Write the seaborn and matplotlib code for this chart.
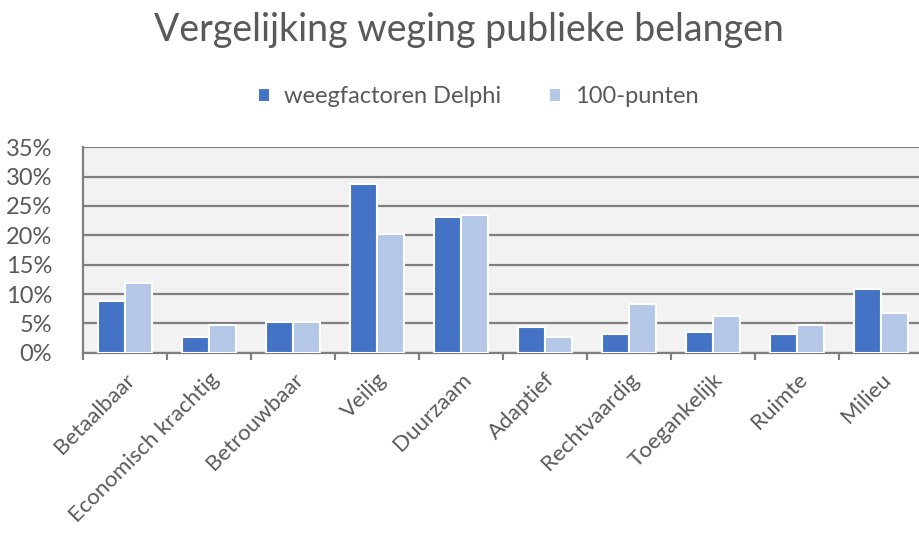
import numpy as np
import pandas as pd
import matplotlib
matplotlib.use("Agg")
import matplotlib.pyplot as plt
import seaborn as sns
from matplotlib.ticker import PercentFormatter

categories = ["Betaalbaar", "Economisch krachtig", "Betrouwbaar", "Veilig", "Duurzaam",
              "Adaptief", "Rechtvaardig", "Toegankelijk", "Ruimte", "Milieu"]
delphi = [8.9, 2.7, 5.3, 28.8, 23.1, 4.4, 3.2, 3.6, 3.2, 10.8]
punten = [11.9, 4.8, 5.3, 20.2, 23.5, 2.7, 8.3, 6.2, 4.8, 6.8]
series = ["weegfactoren Delphi", "100-punten"]
colors = ["#4472C4", "#B4C7E7"]

df = pd.DataFrame({
    "categorie": categories * 2,
    "reeks": [series[0]] * len(categories) + [series[1]] * len(categories),
    "waarde": delphi + punten,
})

sns.set_style("white")
plt.rcParams["font.family"] = ["Lato", "DejaVu Sans"]
textcol = "#595959"

fig = plt.figure(figsize=(9.2, 5.37), dpi=100)
ax = fig.add_axes([0.09, 0.343, 0.913, 0.383])
ax.set_facecolor("#F2F2F2")

sns.barplot(data=df, x="categorie", y="waarde", hue="reeks", palette=colors,
            saturation=1, width=0.64, edgecolor="white", linewidth=1.5, ax=ax, zorder=3)

ax.set_ylim(0, 35)
ax.set_xlim(-0.5, 9.5)
ax.set_yticks(range(0, 36, 5))
ax.yaxis.set_major_formatter(PercentFormatter(decimals=0))
ax.yaxis.grid(True, color="#7F7F7F", linewidth=1.6, zorder=0)
ax.set_axisbelow(True)
ax.set_xlabel("")
ax.set_ylabel("")

for s in ["top", "right"]:
    ax.spines[s].set_visible(False)
for s in ["left", "bottom"]:
    ax.spines[s].set_color("#7F7F7F")
    ax.spines[s].set_linewidth(1.6)

ax.set_xticks(np.arange(len(categories)))
ax.set_xticklabels(categories, rotation=45, ha="right", rotation_mode="anchor",
                   fontsize=16, color=textcol)
ax.set_xticks(np.arange(-0.5, len(categories), 1), minor=True)
ax.tick_params(axis="x", which="major", length=0, pad=12)
ax.tick_params(axis="x", which="minor", length=5, width=1.6, color="#7F7F7F", bottom=True)
ax.tick_params(axis="y", length=0, labelsize=17, labelcolor=textcol, pad=22)

handles, labels = ax.get_legend_handles_labels()
ax.legend(handles, labels, loc="center", bbox_to_anchor=(0.52, 0.82),
          bbox_transform=fig.transFigure, ncol=2, frameon=False, fontsize=17,
          labelcolor=textcol, handlelength=0.5, handleheight=0.5,
          columnspacing=2.0, handletextpad=0.6)

fig.text(0.51, 0.945, "Vergelijking weging publieke belangen", ha="center", va="center",
         fontsize=27, color=textcol)

fig.savefig("out.png", dpi=100, facecolor="white")
